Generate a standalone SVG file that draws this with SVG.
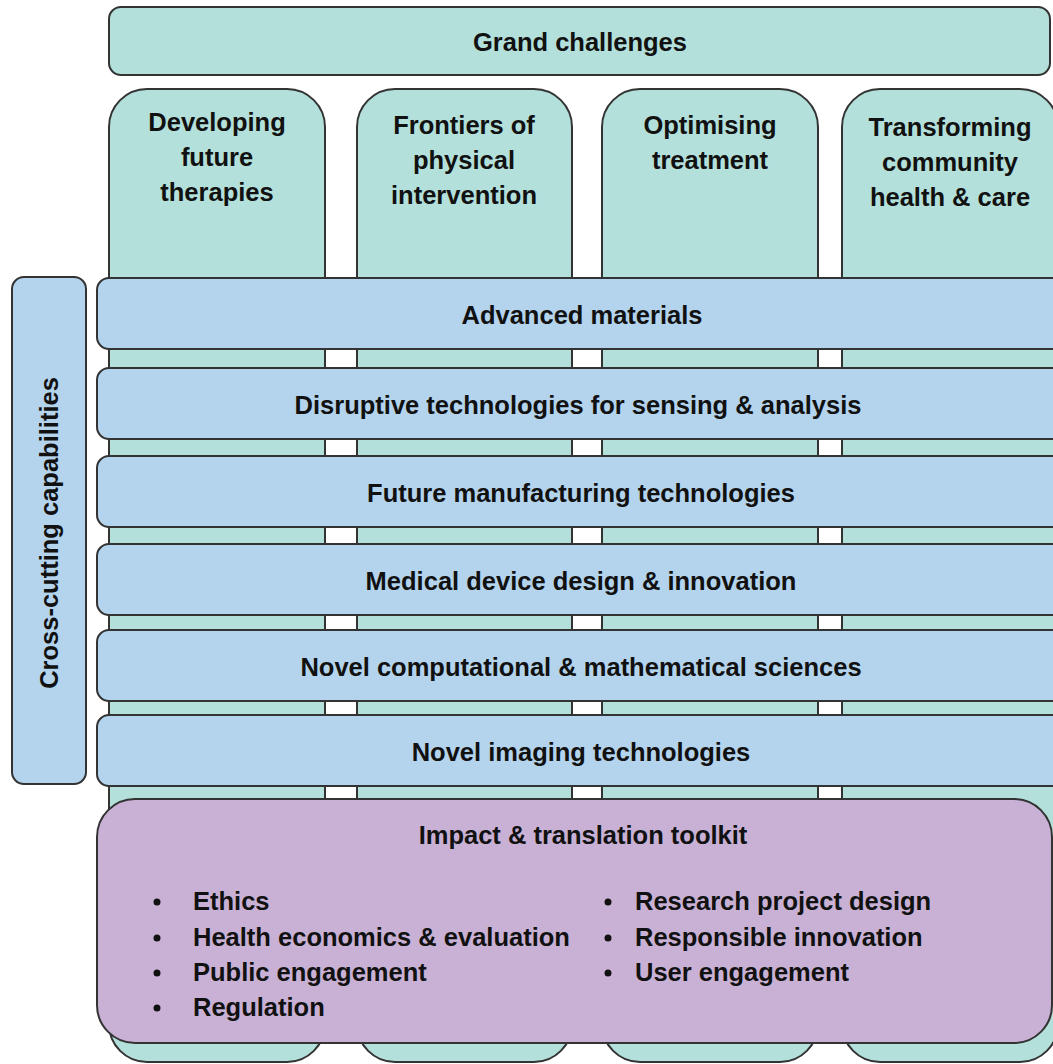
<svg xmlns="http://www.w3.org/2000/svg" width="1053" height="1064" viewBox="0 0 1053 1064">
<style>
.g{fill:#b3e0da;stroke:#333;stroke-width:2}
.b{fill:#b4d4ee;stroke:#333;stroke-width:2}
.p{fill:#c9b1d6;stroke:#333;stroke-width:2}
text{font-family:"Liberation Sans",Arial,sans-serif;font-weight:bold;font-size:25.5px;fill:#111}
.c{text-anchor:middle}
</style>
<rect width="1053" height="1064" fill="#fff"/>
<g id="grand-challenges">
<rect class="g" x="109" y="7" width="941" height="68" rx="12"/>
<text class="c" x="580" y="51">Grand challenges</text>
</g>
<g id="col-developing">
<rect class="g" x="109" y="89" width="216" height="973" rx="38"/>
</g>
<g id="col-frontiers">
<rect class="g" x="357" y="89" width="215" height="973" rx="38"/>
</g>
<g id="col-optimising">
<rect class="g" x="602" y="89" width="216" height="973" rx="38"/>
</g>
<g id="col-transforming">
<rect class="g" x="842" y="89" width="216" height="973" rx="38"/>
</g>
<g id="bar-advanced-materials">
<rect class="b" x="97" y="278" width="985" height="71" rx="12"/>
<text class="c" x="582" y="324">Advanced materials</text>
</g>
<g id="bar-disruptive">
<rect class="b" x="97" y="368" width="985" height="71" rx="12"/>
<text class="c" x="578" y="414">Disruptive technologies for sensing &amp; analysis</text>
</g>
<g id="bar-manufacturing">
<rect class="b" x="97" y="456" width="985" height="71" rx="12"/>
<text class="c" x="581" y="502">Future manufacturing technologies</text>
</g>
<g id="bar-medical-device">
<rect class="b" x="97" y="544" width="985" height="71" rx="12"/>
<text class="c" x="581" y="590">Medical device design &amp; innovation</text>
</g>
<g id="bar-computational">
<rect class="b" x="97" y="630" width="985" height="71" rx="12"/>
<text class="c" x="581" y="676">Novel computational &amp; mathematical sciences</text>
</g>
<g id="bar-imaging">
<rect class="b" x="97" y="715" width="985" height="71" rx="12"/>
<text class="c" x="581" y="761">Novel imaging technologies</text>
</g>
<g id="impact-toolkit">
<rect class="p" x="97" y="799" width="955" height="244" rx="38"/>
<text class="c" x="583" y="844">Impact &amp; translation toolkit</text>
<g fill="#111">
<circle cx="157" cy="902" r="3.5"/>
<circle cx="157" cy="938" r="3.5"/>
<circle cx="157" cy="973" r="3.5"/>
<circle cx="157" cy="1008" r="3.5"/>
<circle cx="608" cy="902" r="3.5"/>
<circle cx="608" cy="938" r="3.5"/>
<circle cx="608" cy="973" r="3.5"/>
</g>
<text x="193" y="910">Ethics</text>
<text x="193" y="946">Health economics &amp; evaluation</text>
<text x="193" y="981">Public engagement</text>
<text x="193" y="1016">Regulation</text>
<text x="635" y="910">Research project design</text>
<text x="635" y="946">Responsible innovation</text>
<text x="635" y="981">User engagement</text>
</g>
<g id="cross-cutting">
<rect class="b" x="12" y="277" width="74" height="507" rx="12"/>
<text class="c" transform="translate(58 533) rotate(-90)">Cross-cutting capabilities</text>
</g>
<g id="column-titles">
<text class="c" x="217" y="131">Developing</text>
<text class="c" x="217" y="166">future</text>
<text class="c" x="217" y="201">therapies</text>
<text class="c" x="464" y="134">Frontiers of</text>
<text class="c" x="464" y="169">physical</text>
<text class="c" x="464" y="204">intervention</text>
<text class="c" x="710" y="134">Optimising</text>
<text class="c" x="710" y="169">treatment</text>
<text class="c" x="950" y="136">Transforming</text>
<text class="c" x="950" y="171">community</text>
<text class="c" x="950" y="206">health &amp; care</text>
</g>
<g id="connectors"/>
</svg>
